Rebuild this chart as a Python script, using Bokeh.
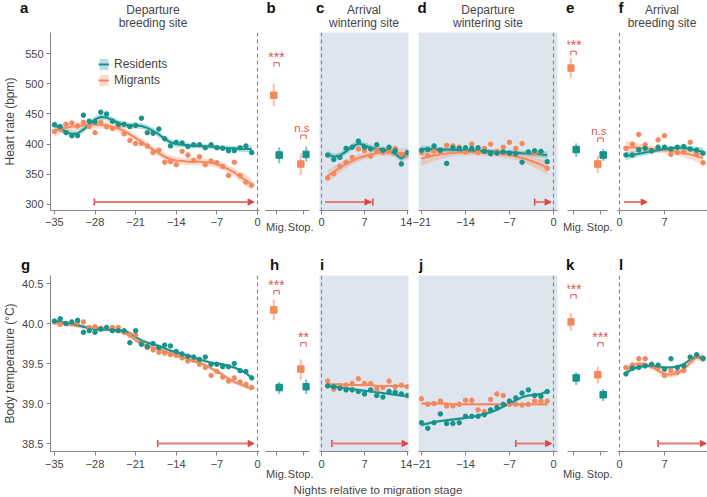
import math
from bokeh.plotting import figure
from bokeh.layouts import row, column
from bokeh.models import (Range1d, FixedTicker, PrintfTickFormatter, Span,
                          Legend, LegendItem, Arrow, NormalHead, TeeHead, Div)
from bokeh.embed import file_html
from bokeh.resources import INLINE
from bokeh.core.properties import value

FONT = "Liberation Sans"
TEAL = "#16938b"
ORANGE = "#f4895d"
RED = "#d9463e"
RED_LINE = "#e27b74"
SIG_RED = "#e0544b"
SHADE = "#dfe5ef"
AXIS = "#858585"
TXT = "#454545"

# ------------------------------------------------------------------ data
STAGES = ["Mig.", "Stop."]

# a: heart rate, departure breeding site
NIGHTS_A = list(range(-35, 0))
A_RES = [432, 429, 419, 414, 414, 448, 438, 437, 453, 450, 438, 433, 433, 429, 431, 443, 419, 418,
         425, 409, 397, 403, 402, 396, 399, 399, 394, 399, 394, 393, 389, 389, 394, 397, 386]
A_MIG = [421, 425, 433, 435, 430, 436, 429, 419, 436, 429, 426, 429, 417, 406, 401, 401, 397, 386,
         390, 370, 371, 366, 388, 382, 373, 379, 366, 372, 369, 363, 348, 370, 348, 337, 332]
A_RES_FIT = [432, 426, 420, 417, 418, 424, 433, 441, 445, 444, 440, 435, 432, 431, 431, 430, 427, 422,
             416, 409, 403, 400, 399, 398, 397, 397, 396, 396, 395, 394, 393, 393, 392, 392, 392]
A_RES_CI = [7, 6, 5, 5, 5, 5, 5, 5, 5, 5, 5, 5, 5, 5, 5, 5, 5, 5, 5, 5, 5, 5, 4, 4, 4, 4, 4, 4,
            4, 4, 4, 4, 5, 5, 6]
A_MIG_FIT = [422, 425, 427, 429, 430, 431, 432, 432, 432, 431, 429, 426, 422, 416, 410, 404, 397, 391,
             385, 379, 375, 373, 372, 371, 371, 371, 370, 369, 367, 363, 358, 353, 346, 340, 333]
A_MIG_CI = [10, 8, 7, 7, 6, 6, 6, 6, 6, 6, 6, 6, 6, 6, 6, 6, 6, 6, 6, 6, 6, 6, 6, 6, 6, 6, 6, 6,
            6, 6, 6, 7, 8, 9, 10]

# b: heart rate, migration vs stopover
B_RES = [382, 383]
B_RES_LO = [368, 371]
B_RES_HI = [395, 396]
B_MIG = [481, 367]
B_MIG_LO = [463, 349]
B_MIG_HI = [500, 385]
B_SIG = ["***", "n.s."]
B_SIG_Y = [535, 415]

# c: heart rate, arrival wintering site
NIGHTS_C = list(range(1, 15))
C_RES = [382, 374.5, 378, 393, 395, 405, 395, 392, 399, 390, 395, 389, 367, 386]
C_MIG = [344, 351, 363, 370, 378, 392, 389, 380, 389, 386, 388, 393, 383, 382]
C_RES_FIT = [383, 379, 381, 388, 396, 401, 398, 394, 392, 391, 389, 384, 376, 385]
C_RES_CI = [6, 5, 5, 5, 5, 5, 5, 5, 5, 5, 5, 5, 6, 7]
C_MIG_FIT = [347, 354, 361, 367, 372, 377, 380, 383, 385, 386, 386, 386, 385, 384]
C_MIG_CI = [10, 9, 8, 7, 6, 6, 5, 5, 5, 5, 6, 7, 8, 10]

# d: heart rate, departure wintering site
NIGHTS_D = list(range(-21, 0))
D_RES = [390, 391, 397, 390, 368, 394, 393, 394, 393, 394, 388, 384, 385, 387, 385, 384, 370,
         387, 389, 388, 371]
D_MIG = [386, 381, 388, 386, 398, 397, 395, 387, 400, 386, 393, 400, 388, 395, 403, 393, 401,
         386, 385, 387, 360]
D_RES_FIT = [392, 392, 391.5, 391, 391, 390.5, 390, 390, 389.5, 389, 388.5, 388, 387.5, 387,
             386.5, 386, 385, 384.5, 384, 383, 382]
D_RES_CI = [6, 5, 5, 4, 4, 4, 4, 4, 4, 4, 4, 4, 4, 4, 4, 4, 4, 4, 5, 5, 6]
D_MIG_FIT = [376, 379, 381, 383, 384.5, 385.5, 386, 386.5, 386.5, 386, 385.5, 385, 384, 383,
             381.5, 379.5, 377, 374, 370, 366, 361]
D_MIG_CI = [12, 11, 9, 8, 7, 6, 5, 5, 5, 5, 5, 5, 5, 5, 6, 6, 7, 8, 9, 10, 12]

# e: heart rate, migration vs stopover
E_RES = [391, 382]
E_RES_LO = [379, 372]
E_RES_HI = [401, 392]
E_MIG = [526, 367]
E_MIG_LO = [509, 352]
E_MIG_HI = [543, 381]
E_SIG = ["***", "n.s."]
E_SIG_Y = [554, 410]

# f: heart rate, arrival breeding site
NIGHTS_F = list(range(1, 14))
F_RES = [382, 382, 390.5, 393, 389, 395, 395, 392, 395, 396, 392, 390, 385]
F_MIG = [393, 400, 416, 399, 389, 407, 414, 383, 386, 387, 403, 383, 369]
F_RES_FIT = [380, 382, 384, 386, 388, 390, 392, 393, 394, 394, 392, 390, 387]
F_RES_CI = [7, 6, 5, 5, 4, 4, 4, 4, 4, 4, 5, 6, 7]
F_MIG_FIT = [395, 394.5, 394, 393, 392, 391, 390, 389, 387, 385, 383, 380, 377]
F_MIG_CI = [10, 8, 7, 6, 5, 5, 5, 5, 6, 7, 8, 9, 11]

# g: body temperature, departure breeding site
G_RES = [40.03, 40.06, 40.00, 40.02, 40.04, 39.89, 39.91, 39.89, 39.93, 39.95, 39.91, 39.91, 39.91,
         39.76, 39.91, 39.74, 39.71, 39.75, 39.70, 39.73, 39.72, 39.65, 39.62, 39.59, 39.58, 39.55,
         39.58, 39.49, 39.49, 39.46, 39.46, 39.50, 39.41, 39.40, 39.32]
G_MIG = [40.02, 39.99, 40.00, 40.00, 40.01, 40.02, 39.95, 39.96, 39.94, 39.94, 39.95, 39.95, 39.89,
         39.86, 39.86, 39.75, 39.70, 39.67, 39.64, 39.63, 39.61, 39.60, 39.57, 39.53, 39.54, 39.49,
         39.45, 39.35, 39.40, 39.33, 39.28, 39.32, 39.27, 39.24, 39.20]
G_RES_FIT = [40.03, 40.02, 40.01, 40.00, 39.98, 39.96, 39.94, 39.93, 39.92, 39.92, 39.92, 39.91,
             39.91, 39.88, 39.83, 39.79, 39.76, 39.74, 39.72, 39.69, 39.66, 39.64, 39.62, 39.60,
             39.58, 39.55, 39.53, 39.51, 39.50, 39.49, 39.47, 39.45, 39.42, 39.38, 39.32]
G_RES_CI = [0.03] + [0.02] * 33 + [0.03]
G_MIG_FIT = [40.01, 40.00, 39.99, 39.98, 39.97, 39.96, 39.95, 39.95, 39.94, 39.93, 39.92, 39.91,
             39.89, 39.84, 39.79, 39.75, 39.72, 39.70, 39.68, 39.65, 39.63, 39.60, 39.58, 39.56,
             39.53, 39.51, 39.48, 39.44, 39.40, 39.36, 39.31, 39.27, 39.24, 39.21, 39.19]
G_MIG_CI = [0.035] + [0.025] * 33 + [0.035]

# h: body temperature, migration vs stopover
H_RES = [39.20, 39.21]
H_RES_LO = [39.12, 39.12]
H_RES_HI = [39.27, 39.30]
H_MIG = [40.17, 39.43]
H_MIG_LO = [40.04, 39.30]
H_MIG_HI = [40.30, 39.55]
H_SIG = ["***", "**"]
H_SIG_Y = [40.41, 39.76]

# i: body temperature, arrival wintering site
I_RES = [39.22, 39.21, 39.19, 39.17, 39.17, 39.15, 39.12, 39.17, 39.10, 39.08, 39.15, 39.14, 39.12, 39.10]
I_MIG = [39.28, 39.18, 39.22, 39.23, 39.25, 39.31, 39.25, 39.25, 39.18, 39.20, 39.28, 39.21, 39.23, 39.21]
I_RES_FIT = [39.22, 39.21, 39.20, 39.19, 39.18, 39.17, 39.16, 39.15, 39.14, 39.13, 39.12, 39.11, 39.10, 39.09]
I_RES_CI = [0.02] + [0.015] * 12 + [0.02]
I_MIG_FIT = [39.24, 39.24, 39.24, 39.23, 39.23, 39.23, 39.23, 39.23, 39.22, 39.22, 39.22, 39.22, 39.22, 39.21]
I_MIG_CI = [0.02] + [0.015] * 12 + [0.02]

# j: body temperature, departure wintering site
J_RES = [38.76, 38.69, 38.76, 38.87, 38.75, 38.75, 38.76, 38.84, 38.84, 38.84, 38.86, 38.92, 38.95,
         38.99, 39.03, 39.07, 39.13, 39.17, 39.10, 39.09, 39.15]
J_MIG = [39.06, 38.99, 39.00, 39.03, 38.97, 38.97, 38.99, 39.04, 39.04, 38.92, 38.90, 39.05, 39.12,
         39.10, 38.99, 38.99, 38.98, 38.99, 39.03, 39.03, 39.03]
J_RES_FIT = [38.73, 38.75, 38.77, 38.78, 38.79, 38.80, 38.81, 38.82, 38.83, 38.85, 38.87, 38.89,
             38.92, 38.96, 39.00, 39.04, 39.08, 39.10, 39.11, 39.12, 39.15]
J_RES_CI = [0.025] + [0.018] * 19 + [0.025]
J_MIG_FIT = [39.00, 39.00, 39.00, 39.00, 39.00, 38.99, 38.99, 38.99, 38.99, 38.99, 38.99, 38.99,
             38.99, 38.99, 38.99, 38.99, 38.99, 38.99, 38.99, 38.99, 38.99]
J_MIG_CI = [0.02] + [0.015] * 19 + [0.02]

# k: body temperature, migration vs stopover
K_RES = [39.32, 39.11]
K_RES_LO = [39.23, 39.03]
K_RES_HI = [39.39, 39.18]
K_MIG = [40.02, 39.36]
K_MIG_LO = [39.91, 39.25]
K_MIG_HI = [40.13, 39.46]
K_SIG = ["***", "***"]
K_SIG_Y = [40.36, 39.76]

# l: body temperature, arrival breeding site
L_RES = [39.37, 39.44, 39.45, 39.47, 39.49, 39.48, 39.43, 39.56, 39.45, 39.47, 39.58, 39.61, 39.56]
L_MIG = [39.45, 39.48, 39.56, 39.56, 39.47, 39.45, 39.35, 39.41, 39.39, 39.41, 39.57, 39.59, 39.57]
L_RES_FIT = [39.38, 39.43, 39.46, 39.47, 39.47, 39.46, 39.45, 39.45, 39.46, 39.49, 39.55, 39.59, 39.56]
L_RES_CI = [0.03, 0.025, 0.02, 0.02, 0.02, 0.02, 0.02, 0.02, 0.02, 0.02, 0.02, 0.025, 0.03]
L_MIG_FIT = [39.42, 39.48, 39.50, 39.49, 39.46, 39.41, 39.37, 39.36, 39.38, 39.43, 39.51, 39.58, 39.57]
L_MIG_CI = [0.04, 0.03, 0.03, 0.03, 0.03, 0.04, 0.04, 0.04, 0.04, 0.04, 0.04, 0.04, 0.06]

# analysis windows (arrows): start, end, where the bar is
ARROWS = {"a": (-28.1, -0.6, "start"), "c": (0.6, 8.35, "end"), "d": (-3.0, -0.4, "start"),
          "f": (0.7, 4.3, "none"), "g": (-17.2, -0.6, "start"), "i": (1.7, 14.1, "start"),
          "j": (-6.0, -0.3, "start"), "l": (6.0, 13.5, "start")}
ARROW_Y = {"top": 304, "bot": 38.5}

TICKS = {"a": [-35, -28, -21, -14, -7, 0], "c": [0, 7, 14], "d": [-21, -14, -7, 0], "f": [0, 7]}
TITLES = [("Departure", "breeding site"), ("Arrival", "wintering site"),
          ("Departure", "wintering site"), ("Arrival", "breeding site")]
TOP_LETTERS = ["a", "b", "c", "d", "e", "f"]
BOT_LETTERS = ["g", "h", "i", "j", "k", "l"]

# ------------------------------------------------------------------ layout geometry (px)
W = {"a": (45, 214, 3), "b": (3, 44, 4), "c": (6, 89, 4), "d": (6, 139, 5),
     "e": (5, 40, 5), "f": (5, 90, 0)}
R = {"top": (0, 178, 45), "bot": (0, 177, 30)}
XR = {"a": (-35.67, 0.34), "b": (0.185, 3.444), "c": (-0.326, 14.163), "d": (-21.477, 0.636),
      "e": (0.556, 3.519), "f": (-0.311, 13.69)}
YR = {"top": (290, 585), "bot": (38.4, 40.6)}
FONT_CSS = "font-family:'Liberation Sans',Arial,sans-serif;"


def px_dy(rk, px):
    return px * (YR[rk][1] - YR[rk][0]) / R[rk][1]


def style_axis(ax):
    ax.axis_line_color = AXIS
    ax.major_tick_line_color = AXIS
    ax.minor_tick_line_color = None
    ax.major_tick_out = 4
    ax.major_tick_in = 0
    ax.major_label_text_font = FONT
    ax.major_label_text_font_size = "11px"
    ax.major_label_text_color = TXT
    ax.major_label_standoff = 3


def make_fig(col, rk, yaxis=False, shade=False):
    bl, fw, br = W[col]
    bt, fh, bb = R[rk]
    p = figure(width=bl + fw + br, height=bt + fh + bb,
               x_range=Range1d(*XR[col]), y_range=Range1d(*YR[rk]),
               output_backend="svg", toolbar_location=None,
               y_axis_location="left" if yaxis else None,
               min_border_left=bl, min_border_right=br, min_border_top=bt, min_border_bottom=bb)
    p.xgrid.visible = False
    p.ygrid.visible = False
    p.outline_line_color = None
    p.background_fill_color = SHADE if shade else "white"
    p.border_fill_color = "white"
    for ax in p.xaxis:
        style_axis(ax)
        if rk == "bot":
            ax.major_label_standoff = 4
    for ax in p.yaxis:
        style_axis(ax)
    return p


def col_key(col, rk):
    if rk == "top":
        return col
    return {"a": "g", "b": "h", "c": "i", "d": "j", "e": "k", "f": "l"}[col]


def add_arrow(p, col, rk):
    key = col_key(col, rk)
    if key not in ARROWS:
        return
    x0, x1, bar = ARROWS[key]
    y = ARROW_Y[rk]
    head = NormalHead(size=6, fill_color=RED, line_color=RED, line_width=1)
    tee = TeeHead(size=7, line_color=RED, line_width=1.5)
    if bar == "start":
        p.add_layout(Arrow(x_start=x0, y_start=y, x_end=x1, y_end=y, start=tee, end=head,
                           line_color=RED_LINE, line_width=2))
    elif bar == "end":
        p.add_layout(Arrow(x_start=x0, y_start=y, x_end=x1, y_end=y, start=None, end=tee,
                           line_color=RED_LINE, line_width=2))
        p.add_layout(Arrow(x_start=x0, y_start=y, x_end=x1 - 0.3, y_end=y, start=None, end=head,
                           line_color=RED_LINE, line_width=2))
    else:
        p.add_layout(Arrow(x_start=x0, y_start=y, x_end=x1, y_end=y, start=None, end=head,
                           line_color=RED_LINE, line_width=2))


def curve_panel(col, rk, nights, res, mig, res_fit, res_ci, mig_fit, mig_ci,
                yaxis=False, shade=False, legend=False):
    p = make_fig(col, rk, yaxis=yaxis, shade=shade)
    mb = p.varea(x=nights, y1=[f - c for f, c in zip(mig_fit, mig_ci)],
                 y2=[f + c for f, c in zip(mig_fit, mig_ci)], fill_color=ORANGE, fill_alpha=0.3)
    rb = p.varea(x=nights, y1=[f - c for f, c in zip(res_fit, res_ci)],
                 y2=[f + c for f, c in zip(res_fit, res_ci)], fill_color=TEAL, fill_alpha=0.3)
    ml = p.line(nights, mig_fit, line_color=ORANGE, line_width=2)
    rl = p.line(nights, res_fit, line_color=TEAL, line_width=2)
    p.scatter(nights, mig, size=4.5, color=ORANGE)
    p.scatter(nights, res, size=4.5, color=TEAL)
    p.add_layout(Span(location=0, dimension="height", line_color="#8a8a8a",
                      line_dash="4 3", line_width=1.2))
    ax = p.xaxis[0]
    tk = TICKS[col]
    ax.ticker = FixedTicker(ticks=tk)
    ax.major_label_overrides = {t: ("\u2212%d" % abs(t) if t < 0 else str(t)) for t in tk}
    if yaxis:
        yax = p.yaxis[0]
        yax.axis_label_text_font = FONT
        yax.axis_label_text_font_size = "12px"
        yax.axis_label_text_font_style = "normal"
        yax.axis_label_text_color = TXT
        if rk == "top":
            yax.ticker = FixedTicker(ticks=[300, 350, 400, 450, 500, 550])
            yax.axis_label = "Heart rate (bpm)"
            yax.axis_label_standoff = 5
        else:
            yax.ticker = FixedTicker(ticks=[38.5, 39.0, 39.5, 40.0, 40.5])
            yax.formatter = PrintfTickFormatter(format="%.1f")
            yax.axis_label = "Body temperature (\u00b0C)"
            yax.axis_label_standoff = 2
    if legend:
        lg = Legend(items=[LegendItem(label="Residents", renderers=[rb, rl]),
                           LegendItem(label="Migrants", renderers=[mb, ml])],
                    location=(48, 123), padding=0, spacing=2, glyph_width=11, glyph_height=14,
                    label_height=14, label_standoff=5, label_text_font=FONT,
                    label_text_font_size="12px", label_text_color=TXT,
                    background_fill_alpha=0, border_line_alpha=0)
        p.add_layout(lg)
    add_arrow(p, col, rk)
    return p


DODGE = 0.2


def stage_panel(col, rk, res, res_lo, res_hi, mig, mig_lo, mig_hi, sig, sig_y):
    p = make_fig(col, rk)
    centers = [1 + 2 * i for i in range(len(STAGES))]
    xm = [c - DODGE for c in centers]
    xr_ = [c + DODGE for c in centers]
    p.segment(xm, mig_lo, xm, mig_hi, line_color=ORANGE, line_width=2, line_alpha=0.55)
    p.scatter(xm, mig, marker="square", size=6.5, color=ORANGE)
    p.segment(xr_, res_lo, xr_, res_hi, line_color=TEAL, line_width=2, line_alpha=0.55)
    p.scatter(xr_, res, marker="square", size=6.5, color=TEAL)
    leg = px_dy(rk, 4)
    xs = [[c - DODGE, c - DODGE, c + DODGE, c + DODGE] for c in centers]
    ys = [[y - leg, y, y, y - leg] for y in sig_y]
    p.multi_line(xs, ys, line_color=SIG_RED, line_width=1)
    stars = [(c, y, s) for c, y, s in zip(centers, sig_y, sig) if "*" in s]
    other = [(c, y, s) for c, y, s in zip(centers, sig_y, sig) if "*" not in s]
    if stars:
        p.text(x=[c for c, _, _ in stars], y=[y + px_dy(rk, 6) for _, y, _ in stars],
               text=[s for _, _, s in stars], text_align="center", text_baseline="middle",
               text_font=value(FONT), text_font_size="14px", text_color=SIG_RED)
    if other:
        p.text(x=[c for c, _, _ in other], y=[y + px_dy(rk, 7) for _, y, _ in other],
               text=[s for _, _, s in other], text_align="center", text_baseline="middle",
               text_font=value(FONT), text_font_size="11.5px", text_color=SIG_RED)
    ax = p.xaxis[0]
    ax.ticker = FixedTicker(ticks=centers)
    if rk == "top":
        ax.major_label_overrides = {c: s for c, s in zip(centers, STAGES)}
        ax.major_label_standoff = 6
    else:
        # stage names sit one line below the night numbers of the neighbouring panels
        ax.major_label_overrides = {c: "\n" + s for c, s in zip(centers, STAGES)}
        ax.major_label_standoff = 0
        ax.major_label_text_line_height = 1.0
    return p


def header(letters, letter_x, letter_top, titles, height):
    parts = ['<div style="position:relative;width:707px;height:%dpx;%s">' % (height, FONT_CSS)]
    for t, x in zip(letters, letter_x):
        parts.append('<span style="position:absolute;left:%.1fpx;top:%.1fpx;font-size:15px;'
                     'line-height:15px;font-weight:bold;color:#111;">%s</span>' % (x, letter_top, t))
    for (l1, l2), cx in titles:
        parts.append('<span style="position:absolute;left:%.1fpx;top:4.2px;width:150px;'
                     'text-align:center;font-size:12px;line-height:13.3px;color:%s;'
                     'white-space:nowrap;">%s<br>%s</span>' % (cx - 75, TXT, l1, l2))
    parts.append('</div>')
    return Div(text="".join(parts), width=707, height=height, margin=(0, 0, 0, 0))


# ------------------------------------------------------------------ build
pa = curve_panel("a", "top", NIGHTS_A, A_RES, A_MIG, A_RES_FIT, A_RES_CI, A_MIG_FIT, A_MIG_CI,
                 yaxis=True, legend=True)
pb = stage_panel("b", "top", B_RES, B_RES_LO, B_RES_HI, B_MIG, B_MIG_LO, B_MIG_HI, B_SIG, B_SIG_Y)
pc = curve_panel("c", "top", NIGHTS_C, C_RES, C_MIG, C_RES_FIT, C_RES_CI, C_MIG_FIT, C_MIG_CI,
                 shade=True)
pd_ = curve_panel("d", "top", NIGHTS_D, D_RES, D_MIG, D_RES_FIT, D_RES_CI, D_MIG_FIT, D_MIG_CI,
                  shade=True)
pe = stage_panel("e", "top", E_RES, E_RES_LO, E_RES_HI, E_MIG, E_MIG_LO, E_MIG_HI, E_SIG, E_SIG_Y)
pf = curve_panel("f", "top", NIGHTS_F, F_RES, F_MIG, F_RES_FIT, F_RES_CI, F_MIG_FIT, F_MIG_CI)

pg = curve_panel("a", "bot", NIGHTS_A, G_RES, G_MIG, G_RES_FIT, G_RES_CI, G_MIG_FIT, G_MIG_CI,
                 yaxis=True)
ph = stage_panel("b", "bot", H_RES, H_RES_LO, H_RES_HI, H_MIG, H_MIG_LO, H_MIG_HI, H_SIG, H_SIG_Y)
pi = curve_panel("c", "bot", NIGHTS_C, I_RES, I_MIG, I_RES_FIT, I_RES_CI, I_MIG_FIT, I_MIG_CI,
                 shade=True)
pj = curve_panel("d", "bot", NIGHTS_D, J_RES, J_MIG, J_RES_FIT, J_RES_CI, J_MIG_FIT, J_MIG_CI,
                 shade=True)
pk = stage_panel("e", "bot", K_RES, K_RES_LO, K_RES_HI, K_MIG, K_MIG_LO, K_MIG_HI, K_SIG, K_SIG_Y)
pl = curve_panel("f", "bot", NIGHTS_F, L_RES, L_MIG, L_RES_FIT, L_RES_CI, L_MIG_FIT, L_MIG_CI)

top_header = header(TOP_LETTERS, [20, 266.5, 316, 417.5, 566, 618.5], 0.0,
                    list(zip(TITLES, [153, 364, 488, 662])), 32)
bot_header = header(BOT_LETTERS, [21, 270, 320, 419, 566, 619], 1.8, [], 20)

xlabel = Div(text='<div style="position:relative;width:707px;height:15px;%s">'
                  '<span style="position:absolute;left:228px;top:0px;width:300px;text-align:center;'
                  'white-space:nowrap;font-size:11.6px;line-height:15px;color:%s;">'
                  'Nights relative to migration stage</span></div>' % (FONT_CSS, TXT),
             width=707, height=15, margin=(0, 0, 0, 0))

layout = column(top_header,
                row(pa, pb, pc, pd_, pe, pf, spacing=0),
                bot_header,
                row(pg, ph, pi, pj, pk, pl, spacing=0),
                xlabel, spacing=0)

open("out.html", "w").write(file_html(layout, INLINE, title="Heart rate and body temperature"))
